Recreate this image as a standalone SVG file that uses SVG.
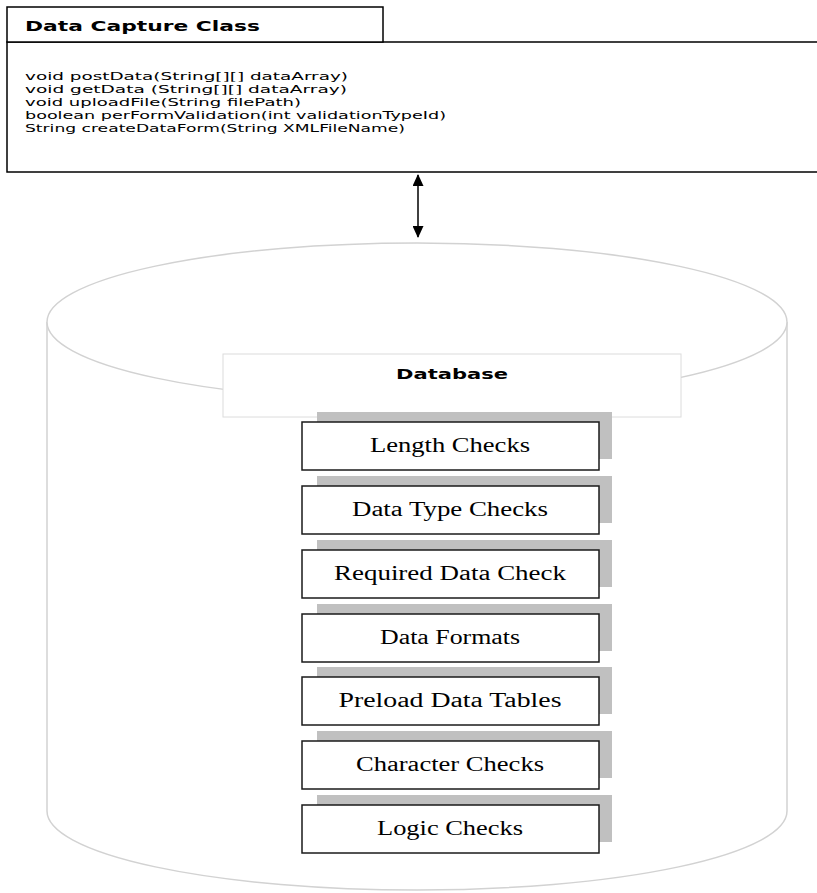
<svg xmlns="http://www.w3.org/2000/svg" width="817" height="893" viewBox="0 0 817 893">
  <defs>
    <style>
      .frame { fill: #ffffff; stroke: #000000; stroke-width: 1.5; }
      .title { font-family: "DejaVu Sans", Verdana, sans-serif; font-weight: bold; font-size: 14px; fill: #000000; }
      .method { font-family: "DejaVu Sans", Verdana, sans-serif; font-size: 11px; fill: #000000; }
      .cyl { fill: #ffffff; stroke: #d2d2d2; stroke-width: 1.5; }
      .dbbox { fill: #ffffff; stroke: #dcdcdc; stroke-width: 1; }
      .shadow { fill: #c0c0c0; stroke: none; }
      .check { fill: #ffffff; stroke: #1a1a1a; stroke-width: 1.5; }
      .label { font-family: "Liberation Serif", "Times New Roman", serif; font-size: 20px; fill: #000000; text-anchor: middle; }
      .link { stroke: #000000; stroke-width: 1.5; fill: none; }
    </style>
    <marker id="head" viewBox="0 0 12 11" refX="11" refY="5.5" markerWidth="12" markerHeight="11" markerUnits="userSpaceOnUse" orient="auto-start-reverse">
      <path d="M0,0 L12,5.5 L0,11 Z" fill="#000000"/>
    </marker>
  </defs>

  <!-- class box -->
  <g id="data-capture-class">
    <rect class="frame" x="7" y="42" width="820" height="130"/>
    <rect class="frame" x="7" y="7" width="376" height="35"/>
    <text class="title" x="25" y="31" textLength="235" lengthAdjust="spacingAndGlyphs">Data Capture Class</text>
    <text class="method" x="25" y="80" textLength="323" lengthAdjust="spacingAndGlyphs">void postData(String[][] dataArray)</text>
    <text class="method" x="25" y="93" textLength="322" lengthAdjust="spacingAndGlyphs">void getData (String[][] dataArray)</text>
    <text class="method" x="25" y="106" textLength="276" lengthAdjust="spacingAndGlyphs">void uploadFile(String filePath)</text>
    <text class="method" x="25" y="119" textLength="421" lengthAdjust="spacingAndGlyphs">boolean perFormValidation(int validationTypeId)</text>
    <text class="method" x="25" y="132" textLength="380" lengthAdjust="spacingAndGlyphs">String createDataForm(String XMLFileName)</text>
  </g>

  <!-- database cylinder -->
  <g id="database">
    <path class="cyl" d="M47,322 L47,811 A370,79 0 0 0 787,811 L787,322"/>
    <ellipse class="cyl" cx="417" cy="322" rx="370" ry="79"/>
    <rect class="dbbox" x="223" y="354" width="458" height="63"/>
    <text class="title" x="452" y="379" text-anchor="middle" textLength="112" lengthAdjust="spacingAndGlyphs">Database</text>
  </g>

  <!-- validation checks -->
  <g id="length-checks">
    <rect class="shadow" x="317" y="412" width="295" height="47"/>
    <rect class="check" x="302" y="422" width="297" height="48"/>
    <text class="label" x="450" y="452" textLength="160" lengthAdjust="spacingAndGlyphs">Length Checks</text>
  </g>
  <g id="data-type-checks">
    <rect class="shadow" x="317" y="476" width="295" height="47"/>
    <rect class="check" x="302" y="486" width="297" height="48"/>
    <text class="label" x="450" y="516" textLength="196" lengthAdjust="spacingAndGlyphs">Data Type Checks</text>
  </g>
  <g id="required-data-check">
    <rect class="shadow" x="317" y="540" width="295" height="47"/>
    <rect class="check" x="302" y="550" width="297" height="48"/>
    <text class="label" x="450" y="580" textLength="232" lengthAdjust="spacingAndGlyphs">Required Data Check</text>
  </g>
  <g id="data-formats">
    <rect class="shadow" x="317" y="604" width="295" height="47"/>
    <rect class="check" x="302" y="614" width="297" height="48"/>
    <text class="label" x="450" y="644" textLength="140" lengthAdjust="spacingAndGlyphs">Data Formats</text>
  </g>
  <g id="preload-data-tables">
    <rect class="shadow" x="317" y="667" width="295" height="47"/>
    <rect class="check" x="302" y="677" width="297" height="48"/>
    <text class="label" x="450" y="707" textLength="223" lengthAdjust="spacingAndGlyphs">Preload Data Tables</text>
  </g>
  <g id="character-checks">
    <rect class="shadow" x="317" y="731" width="295" height="47"/>
    <rect class="check" x="302" y="741" width="297" height="48"/>
    <text class="label" x="450" y="771" textLength="188" lengthAdjust="spacingAndGlyphs">Character Checks</text>
  </g>
  <g id="logic-checks">
    <rect class="shadow" x="317" y="795" width="295" height="47"/>
    <rect class="check" x="302" y="805" width="297" height="48"/>
    <text class="label" x="450" y="835" textLength="146" lengthAdjust="spacingAndGlyphs">Logic Checks</text>
  </g>

  <!-- connectors -->
  <g id="connectors">
    <line class="link" x1="418" y1="175" x2="418" y2="237" marker-start="url(#head)" marker-end="url(#head)"/>
  </g>
</svg>
